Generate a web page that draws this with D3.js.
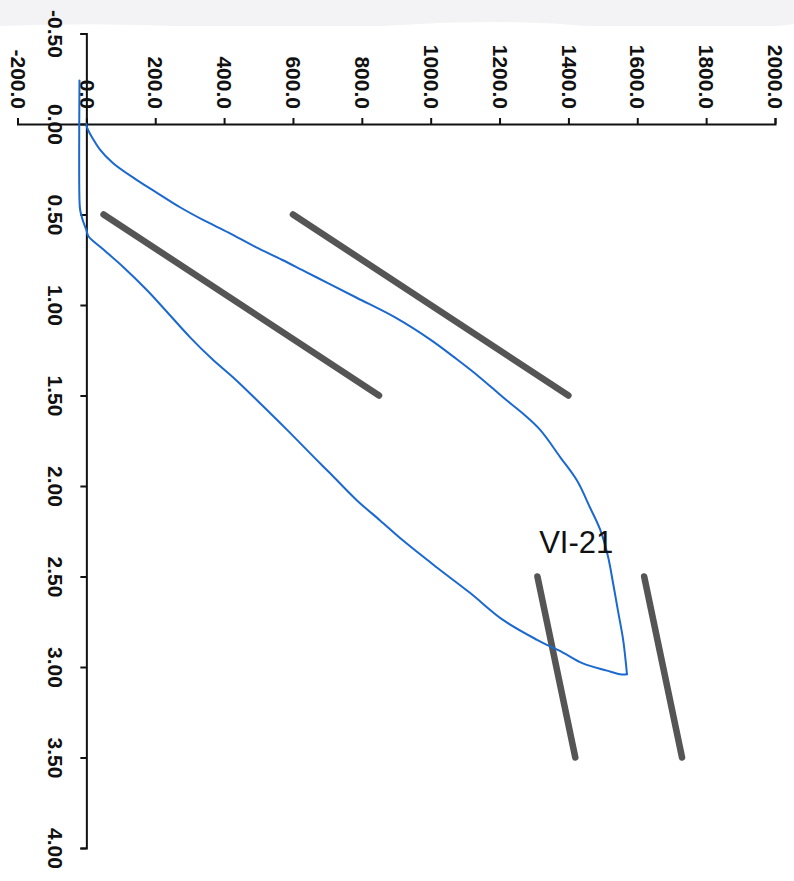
<!DOCTYPE html>
<html>
<head>
<meta charset="utf-8">
<script src="https://cdn.jsdelivr.net/npm/d3@7"></script>
<style>
  html, body { margin: 0; padding: 0; background: #ffffff; }
  svg { display: block; }
</style>
</head>
<body>
<svg id="chart" width="794" height="881"></svg>
<script>
// ---- Data (load along horizontal, displacement along vertical) ----
const loadTicks = [-200, 0, 200, 400, 600, 800, 1000, 1200, 1400, 1600, 1800, 2000];
const dispTicks = [-0.5, 0, 0.5, 1.0, 1.5, 2.0, 2.5, 3.0, 3.5, 4.0];

// loading branch
const loadUp = [0, 2, 39, 77, 147, 205, 272, 339, 413, 492, 568, 640, 703, 785, 898, 998, 1076, 1143, 1210, 1268, 1318, 1376, 1425, 1463, 1492, 1515, 1530, 1544, 1559, 1567, 1570];
const dispUp = [0.00, 0.02, 0.14, 0.215, 0.31, 0.38, 0.46, 0.53, 0.60, 0.68, 0.75, 0.82, 0.88, 0.96, 1.07, 1.19, 1.30, 1.40, 1.51, 1.60, 1.69, 1.84, 1.97, 2.12, 2.24, 2.39, 2.54, 2.69, 2.85, 2.98, 3.04];

// unloading branch
const loadDown = [1570, 1550, 1512, 1442, 1384, 1309, 1210, 1114, 1018, 919, 853, 786, 708, 671, 583, 503, 432, 366, 302, 235, 177, 107, 41, 6, 0, -9, -18, -20, -20];
const dispDown = [3.04, 3.04, 3.02, 2.98, 2.92, 2.85, 2.74, 2.59, 2.45, 2.30, 2.19, 2.08, 1.93, 1.86, 1.69, 1.54, 1.41, 1.30, 1.18, 1.04, 0.92, 0.79, 0.68, 0.62, 0.585, 0.54, 0.475, 0.42, -0.24];

// straight guide lines: [load, disp] start and end
const guideStart = [[50, 0.5], [600, 0.5], [1310, 2.5], [1620, 2.5]];
const guideEnd   = [[850, 1.5], [1400, 1.5], [1420, 3.5], [1730, 3.5]];

const specimenLabel = "VI-21";
const labelPos = [1315, 2.37];

// ---- Layout ----
const svg = d3.select("#chart");
const x = d3.scaleLinear().domain([-200, 2000]).range([17.5, 775]);
const y = d3.scaleLinear().domain([-0.5, 4.0]).range([33.5, 848]);
const x0 = x(0), y0 = y(0);

// faint paper edge at top (scan)
svg.append("rect").attr("x", 0).attr("y", 0).attr("width", 794).attr("height", 26)
  .attr("fill", "#f3f2f4");
svg.append("path")
  .attr("d", "M0,26 Q100,22 200,27 T400,25 T600,27 T794,24 L794,29 L0,29 Z")
  .attr("fill", "#ffffff");

const fontFam = "'Liberation Sans', Arial, Helvetica, sans-serif";
const hy = f => (d => f(d).replace("\u2212", "-"));

// horizontal (load) axis along y=0
const gx = svg.append("g").attr("transform", `translate(0,${y0})`)
  .call(d3.axisTop(x).tickValues(loadTicks).tickSize(6).tickSizeOuter(6)
        .tickFormat(hy(d3.format(".1f"))));
gx.select(".domain").attr("stroke", "#111").attr("stroke-width", 2);
gx.selectAll(".tick line").attr("stroke", "#111").attr("stroke-width", 2);
gx.selectAll(".tick text")
  .attr("transform", "rotate(90)")
  .attr("x", -15).attr("y", 0).attr("dy", "0.35em")
  .attr("text-anchor", "end")
  .attr("font-family", fontFam).attr("font-size", 21).attr("font-weight", "bold")
  .attr("fill", "#111");

// vertical (displacement) axis along x=0
const gy = svg.append("g").attr("transform", `translate(${x0},0)`)
  .call(d3.axisLeft(y).tickValues(dispTicks).tickSize(6).tickSizeOuter(6)
        .tickFormat(hy(d3.format(".2f"))));
gy.select(".domain").attr("stroke", "#111").attr("stroke-width", 2);
gy.selectAll(".tick line").attr("stroke", "#111").attr("stroke-width", 2);
gy.selectAll(".tick text")
  .attr("transform", "rotate(90)")
  .attr("x", 0).attr("y", 31).attr("dy", "0.35em")
  .attr("text-anchor", "middle")
  .attr("font-family", fontFam).attr("font-size", 21).attr("font-weight", "bold")
  .attr("fill", "#111");

// guide lines
const guides = guideStart.map((s, i) => [s, guideEnd[i]]);
svg.append("g").selectAll("line").data(guides).join("line")
  .attr("x1", d => x(d[0][0])).attr("y1", d => y(d[0][1]))
  .attr("x2", d => x(d[1][0])).attr("y2", d => y(d[1][1]))
  .attr("stroke", "#555555").attr("stroke-width", 6.5).attr("stroke-linecap", "round");

// load-displacement curve (two branches, smooth, sharp corner at peak)
const line = d3.line().x(d => x(d[0])).y(d => y(d[1])).curve(d3.curveCatmullRom.alpha(0.5));
const upPts = loadUp.map((v, i) => [v, dispUp[i]]);
const downPts = loadDown.map((v, i) => [v, dispDown[i]]);
svg.append("g").selectAll("path").data([upPts, downPts]).join("path")
  .attr("d", line)
  .attr("fill", "none").attr("stroke", "#1b69cf").attr("stroke-width", 2)
  .attr("stroke-linejoin", "round").attr("stroke-linecap", "round");

// label
svg.append("text")
  .attr("x", x(labelPos[0])).attr("y", y(labelPos[1]))
  .attr("font-family", fontFam).attr("font-size", 31)
  .attr("fill", "#111").text(specimenLabel);
</script>
</body>
</html>
